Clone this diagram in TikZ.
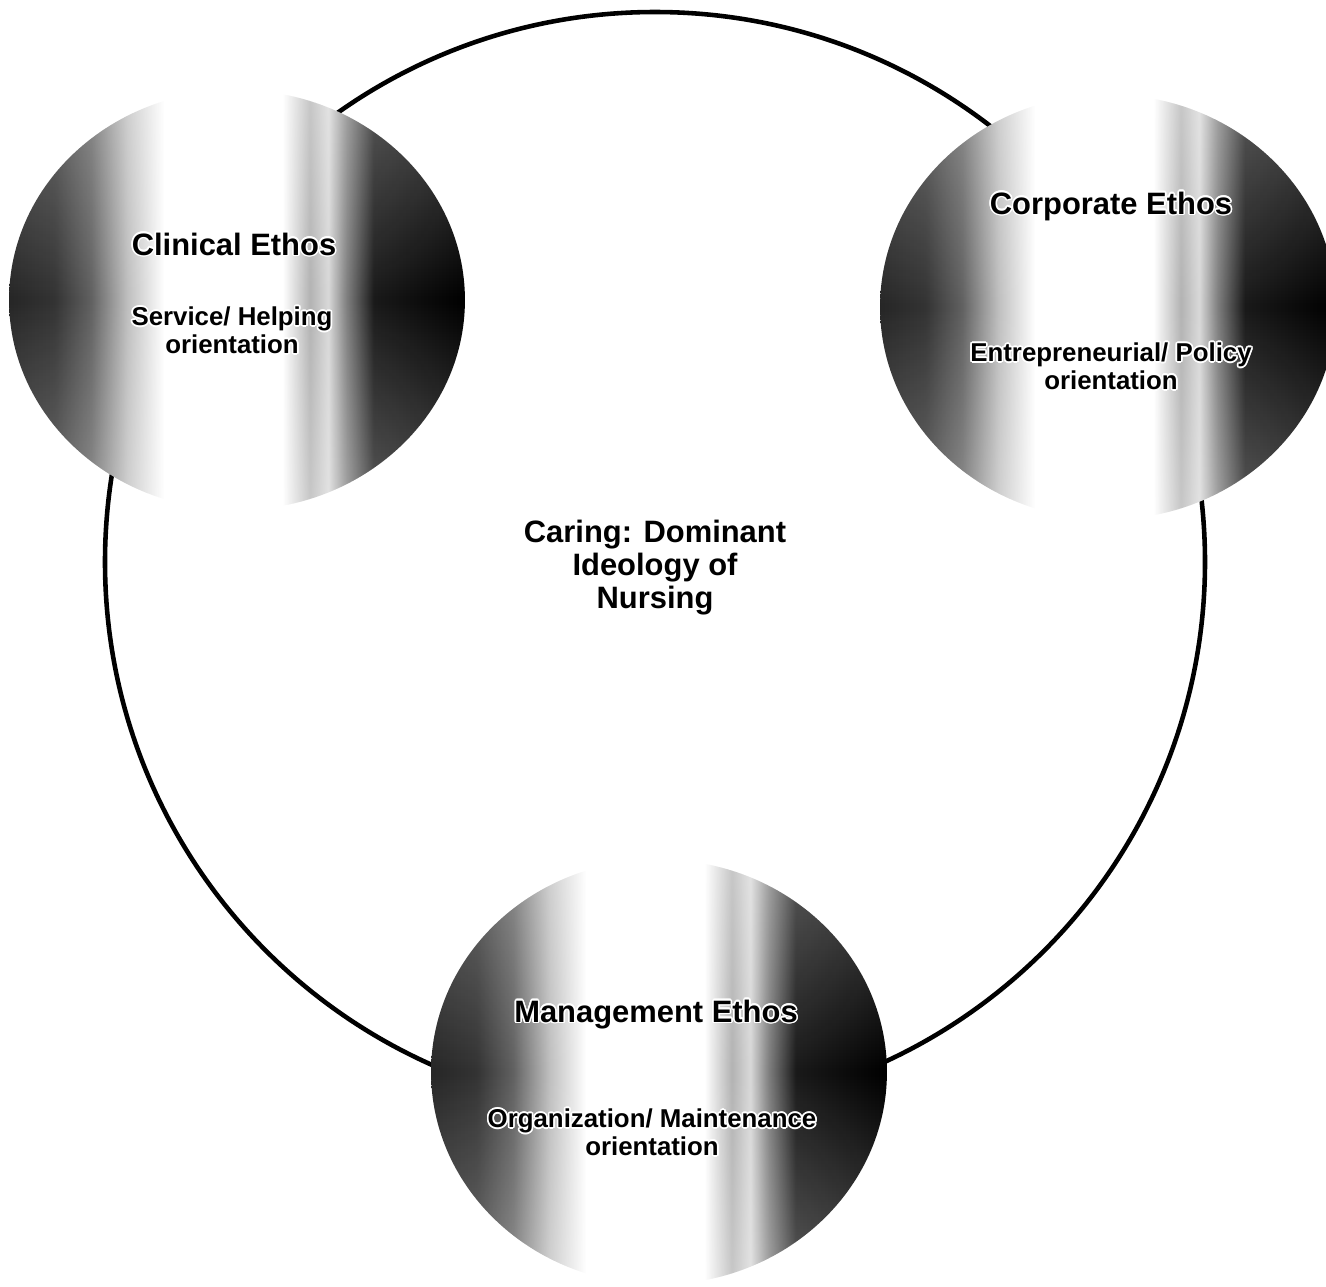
\documentclass[tikz,border=0pt]{standalone}
\usepackage{fontspec}
\setmainfont{Liberation Sans}
\usepackage{contour}
\contourlength{0.9pt}
\usetikzlibrary{shapes.geometric, fadings}

% light band across each ethos ball
\pgfdeclarehorizontalshading{ethos}{100bp}{color(0bp)=(black!85); color(25bp)=(black!85);
  color(30bp)=(black!80); color(34bp)=(black!62); color(38bp)=(black!25); color(42bp)=(white);
  color(55bp)=(white); color(58bp)=(black!30); color(60bp)=(black!15); color(62bp)=(black!50);
  color(65bp)=(black!90); color(75bp)=(black); color(100bp)=(black)}
% paler caps at top and bottom of a ball
\tikzfading[name=capfade, top color=transparent!72, bottom color=transparent!72, middle color=transparent!100]

\tikzset{
  ethosball/.style={ellipse, minimum width=9.12cm, minimum height=8.4cm, inner sep=0pt, shading=ethos},
  ethoscap/.style={fill=white, path fading=capfade},
  ethostitle/.style={font=\bfseries\fontsize{17.6}{19}\selectfont, align=center},
  ethosnote/.style={font=\bfseries\fontsize{14.7}{15.9}\selectfont, align=center},
}

\begin{document}
\begin{tikzpicture}[x=0.02cm, y=-0.02cm]
  \useasboundingbox (0,0) rectangle (1326,1286);
  \clip (0,0) rectangle (1326,1286);
  % the ring of caring
  \draw[line width=2.6pt] (655,562) circle[radius=550];
  \node[font=\bfseries\fontsize{17.6}{18.8}\selectfont, align=center] (caring) at (655,568) {Caring: Dominant\\Ideology of\\Nursing};
  % the three ethos balls
  \node[ethosball] (clinical) at (237,300) {};
  \node[ethosball, minimum height=8.5cm] (corporate) at (1108,307) {};
  \node[ethosball, minimum height=8.5cm] (management) at (659,1072) {};
  \fill[ethoscap] (clinical.center) ellipse[x radius=228, y radius=210];
  \fill[ethoscap] (corporate.center) ellipse[x radius=228, y radius=212.5];
  \fill[ethoscap] (management.center) ellipse[x radius=228, y radius=212.5];
  \node[ethostitle] (clinicaltitle) at (234,245) {\contour{white}{Clinical Ethos}};
  \node[ethosnote] (clinicalnote) at (232,331) {\contour{white}{Service/ Helping}\\\contour{white}{orientation}};
  \node[ethostitle] (corporatetitle) at (1111,207) {\contour{white}{Corporate Ethos}};
  \node[ethosnote] (corporatenote) at (1111,367) {\contour{white}{Entrepreneurial/ Policy}\\\contour{white}{orientation}};
  \node[ethostitle] (managementtitle) at (656,1015) {\contour{white}{Management Ethos}};
  \node[ethosnote] (managementnote) at (652,1133) {\contour{white}{Organization/ Maintenance}\\\contour{white}{orientation}};
\end{tikzpicture}
\end{document}
